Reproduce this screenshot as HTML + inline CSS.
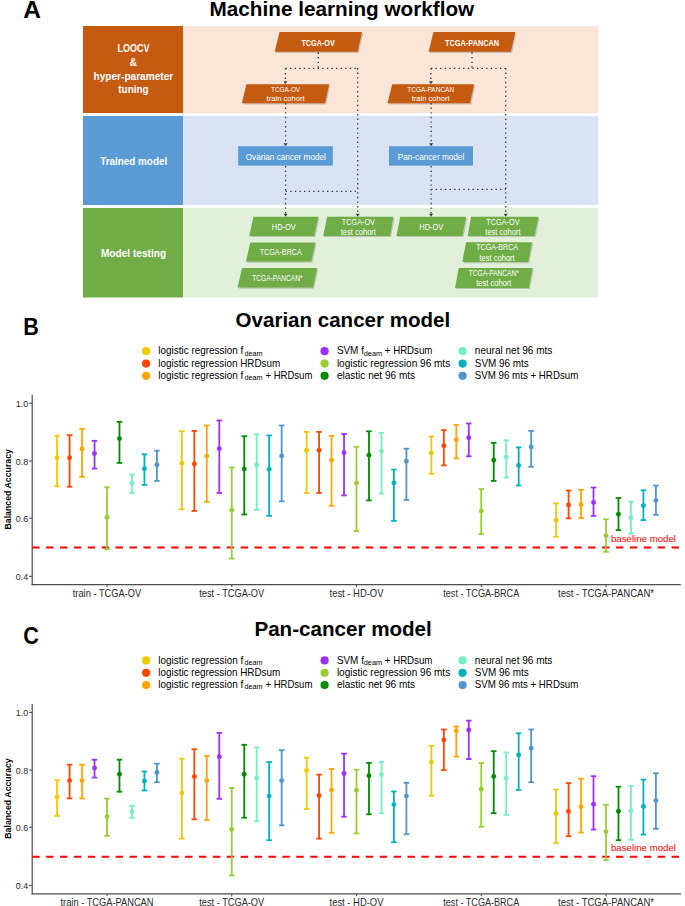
<!DOCTYPE html>
<html><head><meta charset="utf-8"><style>
html,body{margin:0;padding:0;background:#fff;}
svg{display:block;font-family:"Liberation Sans", sans-serif;}
</style></head><body>
<svg width="685" height="906" viewBox="0 0 685 906" style="font-family:&quot;Liberation Sans&quot;, sans-serif">
<text x="23.2" y="18" font-size="24.5" font-weight="bold" fill="#000" text-anchor="start">A</text>
<text x="209.6" y="15.6" font-size="20.5" font-weight="bold" fill="#000" text-anchor="start" textLength="264.6" lengthAdjust="spacingAndGlyphs">Machine learning workflow</text>
<rect x="83" y="26" width="100" height="87" fill="#C55A11"/>
<rect x="183" y="26" width="415.3" height="87" fill="#FBE5D6"/>
<rect x="83" y="116" width="100" height="89" fill="#5B9BD5"/>
<rect x="183" y="116" width="415.3" height="89" fill="#DAE3F3"/>
<rect x="83" y="208" width="100" height="89.5" fill="#70AD47"/>
<rect x="183" y="208" width="415.3" height="89.5" fill="#E2F0D9"/>
<text x="133.4" y="52.4" font-size="10.5" font-weight="bold" fill="#fff" text-anchor="middle" textLength="32" lengthAdjust="spacingAndGlyphs">LOOCV</text>
<text x="133.4" y="65.9" font-size="10.5" font-weight="bold" fill="#fff" text-anchor="middle" textLength="7.6" lengthAdjust="spacingAndGlyphs">&amp;</text>
<text x="133.4" y="79.6" font-size="10.5" font-weight="bold" fill="#fff" text-anchor="middle" textLength="79.7" lengthAdjust="spacingAndGlyphs">hyper-parameter</text>
<text x="133.4" y="92.7" font-size="10.5" font-weight="bold" fill="#fff" text-anchor="middle" textLength="30.2" lengthAdjust="spacingAndGlyphs">tuning</text>
<text x="133.7" y="165" font-size="11.3" font-weight="bold" fill="#fff" text-anchor="middle" textLength="67" lengthAdjust="spacingAndGlyphs">Trained model</text>
<text x="133.5" y="257.1" font-size="11.3" font-weight="bold" fill="#fff" text-anchor="middle" textLength="65.2" lengthAdjust="spacingAndGlyphs">Model testing</text>
<line x1="318.3" y1="52.5" x2="318.3" y2="68.4" stroke="#3a3a3a" stroke-width="1.3" stroke-dasharray="1.4 3.2" fill="none"/>
<line x1="285.4" y1="68.4" x2="357.7" y2="68.4" stroke="#3a3a3a" stroke-width="1.3" stroke-dasharray="1.4 3.2" fill="none"/>
<line x1="285.4" y1="68.4" x2="285.4" y2="82" stroke="#3a3a3a" stroke-width="1.3" stroke-dasharray="1.4 3.2" fill="none"/>
<line x1="285.6" y1="103" x2="285.6" y2="144" stroke="#3a3a3a" stroke-width="1.3" stroke-dasharray="1.4 3.2" fill="none"/>
<line x1="285.6" y1="166" x2="285.6" y2="214" stroke="#3a3a3a" stroke-width="1.3" stroke-dasharray="1.4 3.2" fill="none"/>
<line x1="285.6" y1="191.3" x2="357.7" y2="191.3" stroke="#3a3a3a" stroke-width="1.3" stroke-dasharray="1.4 3.2" fill="none"/>
<line x1="357.7" y1="68" x2="357.7" y2="214" stroke="#3a3a3a" stroke-width="1.3" stroke-dasharray="1.4 3.2" fill="none"/>
<line x1="472" y1="52.5" x2="472" y2="68.4" stroke="#3a3a3a" stroke-width="1.3" stroke-dasharray="1.4 3.2" fill="none"/>
<line x1="430.9" y1="68.4" x2="505.4" y2="68.4" stroke="#3a3a3a" stroke-width="1.3" stroke-dasharray="1.4 3.2" fill="none"/>
<line x1="430.9" y1="68.4" x2="430.9" y2="82" stroke="#3a3a3a" stroke-width="1.3" stroke-dasharray="1.4 3.2" fill="none"/>
<line x1="431.1" y1="103" x2="431.1" y2="144" stroke="#3a3a3a" stroke-width="1.3" stroke-dasharray="1.4 3.2" fill="none"/>
<line x1="431.1" y1="166" x2="431.1" y2="214" stroke="#3a3a3a" stroke-width="1.3" stroke-dasharray="1.4 3.2" fill="none"/>
<line x1="431.1" y1="189.3" x2="505.7" y2="189.3" stroke="#3a3a3a" stroke-width="1.3" stroke-dasharray="1.4 3.2" fill="none"/>
<line x1="505.7" y1="68" x2="505.7" y2="214" stroke="#3a3a3a" stroke-width="1.3" stroke-dasharray="1.4 3.2" fill="none"/>
<polygon points="283.4,81.3 287.4,81.3 285.4,84.3" fill="#404040"/>
<polygon points="428.9,81.3 432.9,81.3 430.9,84.3" fill="#404040"/>
<polygon points="283.6,143.2 287.6,143.2 285.6,146.2" fill="#404040"/>
<polygon points="429.1,143.2 433.1,143.2 431.1,146.2" fill="#404040"/>
<polygon points="283.6,213.7 287.6,213.7 285.6,216.7" fill="#404040"/>
<polygon points="355.7,213.7 359.7,213.7 357.7,216.7" fill="#404040"/>
<polygon points="429.1,213.7 433.1,213.7 431.1,216.7" fill="#404040"/>
<polygon points="503.7,213.7 507.7,213.7 505.7,216.7" fill="#404040"/>
<polygon points="280.7,33.300000000000004 363.2,33.300000000000004 358.8,53.0 275.9,53.0" fill="#000" fill-opacity="0.18"/><polygon points="279.5,32.1 362,32.1 357.6,51.8 274.7,51.8" fill="#C55A11"/>
<text x="318.1" y="45.9" font-size="8.9" font-weight="bold" fill="#fff" text-anchor="middle" textLength="33.3" lengthAdjust="spacingAndGlyphs">TCGA-OV</text>
<polygon points="434.7,33.300000000000004 516.5,33.300000000000004 512.0,53.0 429.8,53.0" fill="#000" fill-opacity="0.18"/><polygon points="433.5,32.1 515.3,32.1 510.8,51.8 428.6,51.8" fill="#C55A11"/>
<text x="472.1" y="45.9" font-size="8.9" font-weight="bold" fill="#fff" text-anchor="middle" textLength="54" lengthAdjust="spacingAndGlyphs">TCGA-PANCAN</text>
<polygon points="247.5,85.5 330.3,85.5 326.2,104.5 243.1,104.5" fill="#000" fill-opacity="0.18"/><polygon points="246.3,84.3 329.1,84.3 325,103.3 241.9,103.3" fill="#C55A11"/>
<text x="285.6" y="92" font-size="7.4" font-weight="normal" fill="#fff" text-anchor="middle" textLength="29" lengthAdjust="spacingAndGlyphs">TCGA-OV</text>
<text x="285.6" y="101" font-size="7.4" font-weight="normal" fill="#fff" text-anchor="middle" textLength="38" lengthAdjust="spacingAndGlyphs">train cohort</text>
<polygon points="393.5,85.5 475.2,85.5 471.2,104.5 388.59999999999997,104.5" fill="#000" fill-opacity="0.18"/><polygon points="392.3,84.3 474,84.3 470,103.3 387.4,103.3" fill="#C55A11"/>
<text x="430.7" y="92" font-size="7.4" font-weight="normal" fill="#fff" text-anchor="middle" textLength="47" lengthAdjust="spacingAndGlyphs">TCGA-PANCAN</text>
<text x="430.7" y="101" font-size="7.4" font-weight="normal" fill="#fff" text-anchor="middle" textLength="38" lengthAdjust="spacingAndGlyphs">train cohort</text>
<rect x="238.2" y="146.2" width="94.6" height="19.4" fill="#5B9BD5"/>
<text x="285.8" y="159.7" font-size="8.6" font-weight="normal" fill="#fff" text-anchor="middle" textLength="80.3" lengthAdjust="spacingAndGlyphs">Ovarian cancer model</text>
<rect x="389" y="146.2" width="84" height="19.4" fill="#5B9BD5"/>
<text x="431" y="159.7" font-size="8.6" font-weight="normal" fill="#fff" text-anchor="middle" textLength="66.5" lengthAdjust="spacingAndGlyphs">Pan-cancer model</text>
<polygon points="254.6,217.89999999999998 319.5,217.89999999999998 315.3,237.1 250.39999999999998,237.1" fill="#000" fill-opacity="0.18"/><polygon points="253.4,216.7 318.3,216.7 314.1,235.9 249.2,235.9" fill="#70AD47"/>
<text x="283.75" y="229.60000000000002" font-size="8.8" font-weight="normal" fill="#fff" text-anchor="middle" textLength="24" lengthAdjust="spacingAndGlyphs">HD-OV</text>
<polygon points="251.5,243.6 316.5,243.6 312.5,262.7 247.1,262.7" fill="#000" fill-opacity="0.18"/><polygon points="250.3,242.4 315.3,242.4 311.3,261.5 245.9,261.5" fill="#70AD47"/>
<text x="280.7" y="255.25" font-size="8.8" font-weight="normal" fill="#fff" text-anchor="middle" textLength="42" lengthAdjust="spacingAndGlyphs">TCGA-BRCA</text>
<polygon points="243.29999999999998,269.3 318.3,269.3 314.09999999999997,288.7 238.7,288.7" fill="#000" fill-opacity="0.18"/><polygon points="242.1,268.1 317.1,268.1 312.9,287.5 237.5,287.5" fill="#70AD47"/>
<text x="277.4" y="281.1" font-size="8.8" font-weight="normal" fill="#fff" text-anchor="middle" textLength="50.3" lengthAdjust="spacingAndGlyphs">TCGA-PANCAN*</text>
<polygon points="328.3,217.89999999999998 394.4,217.89999999999998 391.2,237.1 324.4,237.1" fill="#000" fill-opacity="0.18"/><polygon points="327.1,216.7 393.2,216.7 390.0,235.9 323.2,235.9" fill="#70AD47"/>
<text x="358.375" y="224.89999999999998" font-size="8.6" font-weight="normal" fill="#fff" text-anchor="middle" textLength="33.2" lengthAdjust="spacingAndGlyphs">TCGA-OV</text>
<text x="358.375" y="235.0" font-size="8.6" font-weight="normal" fill="#fff" text-anchor="middle" textLength="35.2" lengthAdjust="spacingAndGlyphs">test cohort</text>
<polygon points="401.5,217.89999999999998 467.3,217.89999999999998 463.5,237.1 397.59999999999997,237.1" fill="#000" fill-opacity="0.18"/><polygon points="400.3,216.7 466.1,216.7 462.3,235.9 396.4,235.9" fill="#70AD47"/>
<text x="431.27500000000003" y="229.60000000000002" font-size="8.8" font-weight="normal" fill="#fff" text-anchor="middle" textLength="24" lengthAdjust="spacingAndGlyphs">HD-OV</text>
<polygon points="472.2,217.89999999999998 539.6,217.89999999999998 535.7,237.1 468.9,237.1" fill="#000" fill-opacity="0.18"/><polygon points="471.0,216.7 538.4,216.7 534.5,235.9 467.7,235.9" fill="#70AD47"/>
<text x="502.9" y="224.89999999999998" font-size="8.6" font-weight="normal" fill="#fff" text-anchor="middle" textLength="33.2" lengthAdjust="spacingAndGlyphs">TCGA-OV</text>
<text x="502.9" y="235.0" font-size="8.6" font-weight="normal" fill="#fff" text-anchor="middle" textLength="35.2" lengthAdjust="spacingAndGlyphs">test cohort</text>
<polygon points="467.3,243.39999999999998 533.2,243.39999999999998 529.3000000000001,263.2 463.5,263.2" fill="#000" fill-opacity="0.18"/><polygon points="466.1,242.2 532.0,242.2 528.1,262.0 462.3,262.0" fill="#70AD47"/>
<text x="497.125" y="250.39999999999998" font-size="8.6" font-weight="normal" fill="#fff" text-anchor="middle" textLength="42" lengthAdjust="spacingAndGlyphs">TCGA-BRCA</text>
<text x="497.125" y="260.5" font-size="8.6" font-weight="normal" fill="#fff" text-anchor="middle" textLength="35.2" lengthAdjust="spacingAndGlyphs">test cohort</text>
<polygon points="459.9,269.2 533.8000000000001,269.2 530.0,289.09999999999997 456.2,289.09999999999997" fill="#000" fill-opacity="0.18"/><polygon points="458.7,268.0 532.6,268.0 528.8,287.9 455.0,287.9" fill="#70AD47"/>
<text x="493.775" y="276.2" font-size="8.6" font-weight="normal" fill="#fff" text-anchor="middle" textLength="50" lengthAdjust="spacingAndGlyphs">TCGA-PANCAN*</text>
<text x="493.775" y="286.3" font-size="8.6" font-weight="normal" fill="#fff" text-anchor="middle" textLength="35.2" lengthAdjust="spacingAndGlyphs">test cohort</text>
<text x="23.2" y="335.1" font-size="24.5" font-weight="bold" fill="#000" text-anchor="start" textLength="15.6" lengthAdjust="spacingAndGlyphs">B</text>
<text x="235.6" y="326.9" font-size="20.3" font-weight="bold" fill="#000" text-anchor="start" textLength="214.6" lengthAdjust="spacingAndGlyphs">Ovarian cancer model</text>
<circle cx="146.1" cy="351.2" r="4.1" fill="#EEC900"/>
<circle cx="146.1" cy="363.6" r="4.1" fill="#FF4500"/>
<circle cx="146.1" cy="375.8" r="4.1" fill="#FFA500"/>
<circle cx="324.6" cy="351.2" r="4.1" fill="#9B30FF"/>
<circle cx="324.6" cy="363.6" r="4.1" fill="#9ACD32"/>
<circle cx="324.6" cy="375.8" r="4.1" fill="#008B00"/>
<circle cx="462.6" cy="351.2" r="4.1" fill="#76EEC6"/>
<circle cx="462.6" cy="363.6" r="4.1" fill="#00B2BF"/>
<circle cx="462.6" cy="375.8" r="4.1" fill="#4F94CD"/>
<text x="158.3" y="354.3" font-size="10.8" font-weight="normal" fill="#000" text-anchor="start" textLength="85.0" lengthAdjust="spacingAndGlyphs">logistic regression f</text>
<text x="244.4" y="355.5" font-size="7.0" font-weight="normal" fill="#000" text-anchor="start" textLength="18" lengthAdjust="spacingAndGlyphs">deam</text>
<text x="158.3" y="367.0" font-size="10.8" font-weight="normal" fill="#000" text-anchor="start" textLength="122.0" lengthAdjust="spacingAndGlyphs">logistic regression HRDsum</text>
<text x="158.3" y="379.0" font-size="10.8" font-weight="normal" fill="#000" text-anchor="start" textLength="85.0" lengthAdjust="spacingAndGlyphs">logistic regression f</text>
<text x="244.4" y="380.2" font-size="7.0" font-weight="normal" fill="#000" text-anchor="start" textLength="18" lengthAdjust="spacingAndGlyphs">deam</text>
<text x="265.4" y="379.0" font-size="10.8" font-weight="normal" fill="#000" text-anchor="start" textLength="47.0" lengthAdjust="spacingAndGlyphs">+ HRDsum</text>
<text x="336.9" y="354.3" font-size="10.8" font-weight="normal" fill="#000" text-anchor="start" textLength="27.0" lengthAdjust="spacingAndGlyphs">SVM f</text>
<text x="363.8" y="355.5" font-size="7.0" font-weight="normal" fill="#000" text-anchor="start" textLength="18.3" lengthAdjust="spacingAndGlyphs">deam</text>
<text x="384.8" y="354.3" font-size="10.8" font-weight="normal" fill="#000" text-anchor="start" textLength="47.6" lengthAdjust="spacingAndGlyphs">+ HRDsum</text>
<text x="336.9" y="367.0" font-size="10.8" font-weight="normal" fill="#000" text-anchor="start" textLength="113.3" lengthAdjust="spacingAndGlyphs">logistic regression 96 mts</text>
<text x="336.9" y="379.0" font-size="10.8" font-weight="normal" fill="#000" text-anchor="start" textLength="78.2" lengthAdjust="spacingAndGlyphs">elastic net 96 mts</text>
<text x="474.8" y="354.3" font-size="10.8" font-weight="normal" fill="#000" text-anchor="start" textLength="77.6" lengthAdjust="spacingAndGlyphs">neural net 96 mts</text>
<text x="474.8" y="367.0" font-size="10.8" font-weight="normal" fill="#000" text-anchor="start" textLength="54.0" lengthAdjust="spacingAndGlyphs">SVM 96 mts</text>
<text x="474.8" y="379.0" font-size="10.8" font-weight="normal" fill="#000" text-anchor="start" textLength="103.5" lengthAdjust="spacingAndGlyphs">SVM 96 mts + HRDsum</text>
<line x1="32.2" y1="394.8" x2="32.2" y2="585.3" stroke="#4d4d4d" stroke-width="1.2"/>
<line x1="31.6" y1="584.7" x2="680.9" y2="584.7" stroke="#4d4d4d" stroke-width="1.2"/>
<line x1="29.200000000000003" y1="403.2" x2="32.2" y2="403.2" stroke="#4d4d4d" stroke-width="1.1"/>
<text x="28.2" y="406.7" font-size="8.2" font-weight="normal" fill="#2a2a2a" text-anchor="end" textLength="12.4" lengthAdjust="spacingAndGlyphs">1.0</text>
<line x1="29.200000000000003" y1="461.0" x2="32.2" y2="461.0" stroke="#4d4d4d" stroke-width="1.1"/>
<text x="28.2" y="464.5" font-size="8.2" font-weight="normal" fill="#2a2a2a" text-anchor="end" textLength="12.4" lengthAdjust="spacingAndGlyphs">0.8</text>
<line x1="29.200000000000003" y1="518.2" x2="32.2" y2="518.2" stroke="#4d4d4d" stroke-width="1.1"/>
<text x="28.2" y="521.7" font-size="8.2" font-weight="normal" fill="#2a2a2a" text-anchor="end" textLength="12.4" lengthAdjust="spacingAndGlyphs">0.6</text>
<line x1="29.200000000000003" y1="576.3" x2="32.2" y2="576.3" stroke="#4d4d4d" stroke-width="1.1"/>
<text x="28.2" y="579.8" font-size="8.2" font-weight="normal" fill="#2a2a2a" text-anchor="end" textLength="12.4" lengthAdjust="spacingAndGlyphs">0.4</text>
<text x="11.4" y="489.3" font-size="9.8" font-weight="bold" fill="#000" text-anchor="middle" textLength="80.5" lengthAdjust="spacingAndGlyphs" transform="rotate(-90 11.4 489.3)">Balanced Accuracy</text>
<line x1="107.0" y1="584.7" x2="107.0" y2="587.0" stroke="#4d4d4d" stroke-width="1.1"/>
<text x="107.0" y="596.8" font-size="10.4" font-weight="normal" fill="#2a2a2a" text-anchor="middle" textLength="68.5" lengthAdjust="spacingAndGlyphs">train - TCGA-OV</text>
<line x1="231.75" y1="584.7" x2="231.75" y2="587.0" stroke="#4d4d4d" stroke-width="1.1"/>
<text x="231.75" y="596.8" font-size="10.4" font-weight="normal" fill="#2a2a2a" text-anchor="middle" textLength="64.9" lengthAdjust="spacingAndGlyphs">test - TCGA-OV</text>
<line x1="356.5" y1="584.7" x2="356.5" y2="587.0" stroke="#4d4d4d" stroke-width="1.1"/>
<text x="356.5" y="596.8" font-size="10.4" font-weight="normal" fill="#2a2a2a" text-anchor="middle" textLength="53.9" lengthAdjust="spacingAndGlyphs">test - HD-OV</text>
<line x1="481.25" y1="584.7" x2="481.25" y2="587.0" stroke="#4d4d4d" stroke-width="1.1"/>
<text x="481.25" y="596.8" font-size="10.4" font-weight="normal" fill="#2a2a2a" text-anchor="middle" textLength="75.9" lengthAdjust="spacingAndGlyphs">test - TCGA-BRCA</text>
<line x1="606.0" y1="584.7" x2="606.0" y2="587.0" stroke="#4d4d4d" stroke-width="1.1"/>
<text x="606.0" y="596.8" font-size="10.4" font-weight="normal" fill="#2a2a2a" text-anchor="middle" textLength="96.0" lengthAdjust="spacingAndGlyphs">test - TCGA-PANCAN*</text>
<line x1="32.2" y1="547.5" x2="680.9" y2="547.5" stroke="#FF0000" stroke-width="2" stroke-dasharray="7.4 6.5"/>
<text x="611.0" y="542.2" font-size="9.3" font-weight="normal" fill="#FF0000" text-anchor="start" textLength="65" lengthAdjust="spacingAndGlyphs">baseline model</text>
<g stroke="#EEC900" stroke-width="1.8" fill="none"><line x1="57.1" y1="435.8" x2="57.1" y2="486.3"/><line x1="54.35" y1="435.8" x2="59.85" y2="435.8"/><line x1="54.35" y1="486.3" x2="59.85" y2="486.3"/></g><circle cx="57.1" cy="457.7" r="2.45" fill="#EEC900"/>
<g stroke="#FF4500" stroke-width="1.8" fill="none"><line x1="69.575" y1="435.2" x2="69.575" y2="486.7"/><line x1="66.825" y1="435.2" x2="72.325" y2="435.2"/><line x1="66.825" y1="486.7" x2="72.325" y2="486.7"/></g><circle cx="69.575" cy="457.7" r="2.45" fill="#FF4500"/>
<g stroke="#FFA500" stroke-width="1.8" fill="none"><line x1="82.05" y1="428.9" x2="82.05" y2="476.8"/><line x1="79.3" y1="428.9" x2="84.8" y2="428.9"/><line x1="79.3" y1="476.8" x2="84.8" y2="476.8"/></g><circle cx="82.05" cy="448.9" r="2.45" fill="#FFA500"/>
<g stroke="#9B30FF" stroke-width="1.8" fill="none"><line x1="94.525" y1="440.8" x2="94.525" y2="468.6"/><line x1="91.775" y1="440.8" x2="97.275" y2="440.8"/><line x1="91.775" y1="468.6" x2="97.275" y2="468.6"/></g><circle cx="94.525" cy="453.5" r="2.45" fill="#9B30FF"/>
<g stroke="#9ACD32" stroke-width="1.8" fill="none"><line x1="107.0" y1="487.3" x2="107.0" y2="549.1"/><line x1="104.25" y1="487.3" x2="109.75" y2="487.3"/><line x1="104.25" y1="549.1" x2="109.75" y2="549.1"/></g><circle cx="107.0" cy="517.3" r="2.45" fill="#9ACD32"/>
<g stroke="#008B00" stroke-width="1.8" fill="none"><line x1="119.475" y1="421.9" x2="119.475" y2="462.9"/><line x1="116.725" y1="421.9" x2="122.225" y2="421.9"/><line x1="116.725" y1="462.9" x2="122.225" y2="462.9"/></g><circle cx="119.475" cy="438.6" r="2.45" fill="#008B00"/>
<g stroke="#76EEC6" stroke-width="1.8" fill="none"><line x1="131.95" y1="474.6" x2="131.95" y2="492.9"/><line x1="129.2" y1="474.6" x2="134.7" y2="474.6"/><line x1="129.2" y1="492.9" x2="134.7" y2="492.9"/></g><circle cx="131.95" cy="483.3" r="2.45" fill="#76EEC6"/>
<g stroke="#00B2BF" stroke-width="1.8" fill="none"><line x1="144.425" y1="454.3" x2="144.425" y2="484.9"/><line x1="141.675" y1="454.3" x2="147.175" y2="454.3"/><line x1="141.675" y1="484.9" x2="147.175" y2="484.9"/></g><circle cx="144.425" cy="468.8" r="2.45" fill="#00B2BF"/>
<g stroke="#4F94CD" stroke-width="1.8" fill="none"><line x1="156.9" y1="450.7" x2="156.9" y2="480.9"/><line x1="154.15" y1="450.7" x2="159.65" y2="450.7"/><line x1="154.15" y1="480.9" x2="159.65" y2="480.9"/></g><circle cx="156.9" cy="464.8" r="2.45" fill="#4F94CD"/>
<g stroke="#EEC900" stroke-width="1.8" fill="none"><line x1="181.85" y1="431.3" x2="181.85" y2="509.3"/><line x1="179.1" y1="431.3" x2="184.6" y2="431.3"/><line x1="179.1" y1="509.3" x2="184.6" y2="509.3"/></g><circle cx="181.85" cy="463.2" r="2.45" fill="#EEC900"/>
<g stroke="#FF4500" stroke-width="1.8" fill="none"><line x1="194.325" y1="430.9" x2="194.325" y2="510.9"/><line x1="191.575" y1="430.9" x2="197.075" y2="430.9"/><line x1="191.575" y1="510.9" x2="197.075" y2="510.9"/></g><circle cx="194.325" cy="464.0" r="2.45" fill="#FF4500"/>
<g stroke="#FFA500" stroke-width="1.8" fill="none"><line x1="206.8" y1="425.5" x2="206.8" y2="501.8"/><line x1="204.05" y1="425.5" x2="209.55" y2="425.5"/><line x1="204.05" y1="501.8" x2="209.55" y2="501.8"/></g><circle cx="206.8" cy="456.1" r="2.45" fill="#FFA500"/>
<g stroke="#9B30FF" stroke-width="1.8" fill="none"><line x1="219.275" y1="420.5" x2="219.275" y2="493.0"/><line x1="216.525" y1="420.5" x2="222.025" y2="420.5"/><line x1="216.525" y1="493.0" x2="222.025" y2="493.0"/></g><circle cx="219.275" cy="448.7" r="2.45" fill="#9B30FF"/>
<g stroke="#9ACD32" stroke-width="1.8" fill="none"><line x1="231.75" y1="467.6" x2="231.75" y2="558.6"/><line x1="229.0" y1="467.6" x2="234.5" y2="467.6"/><line x1="229.0" y1="558.6" x2="234.5" y2="558.6"/></g><circle cx="231.75" cy="510.3" r="2.45" fill="#9ACD32"/>
<g stroke="#008B00" stroke-width="1.8" fill="none"><line x1="244.225" y1="436.2" x2="244.225" y2="514.5"/><line x1="241.475" y1="436.2" x2="246.975" y2="436.2"/><line x1="241.475" y1="514.5" x2="246.975" y2="514.5"/></g><circle cx="244.225" cy="469.0" r="2.45" fill="#008B00"/>
<g stroke="#76EEC6" stroke-width="1.8" fill="none"><line x1="256.7" y1="434.2" x2="256.7" y2="509.9"/><line x1="253.95" y1="434.2" x2="259.45" y2="434.2"/><line x1="253.95" y1="509.9" x2="259.45" y2="509.9"/></g><circle cx="256.7" cy="465.2" r="2.45" fill="#76EEC6"/>
<g stroke="#00B2BF" stroke-width="1.8" fill="none"><line x1="269.175" y1="435.4" x2="269.175" y2="515.9"/><line x1="266.425" y1="435.4" x2="271.925" y2="435.4"/><line x1="266.425" y1="515.9" x2="271.925" y2="515.9"/></g><circle cx="269.175" cy="469.2" r="2.45" fill="#00B2BF"/>
<g stroke="#4F94CD" stroke-width="1.8" fill="none"><line x1="281.65" y1="425.5" x2="281.65" y2="501.4"/><line x1="278.9" y1="425.5" x2="284.4" y2="425.5"/><line x1="278.9" y1="501.4" x2="284.4" y2="501.4"/></g><circle cx="281.65" cy="455.9" r="2.45" fill="#4F94CD"/>
<g stroke="#EEC900" stroke-width="1.8" fill="none"><line x1="306.6" y1="431.9" x2="306.6" y2="492.9"/><line x1="303.85" y1="431.9" x2="309.35" y2="431.9"/><line x1="303.85" y1="492.9" x2="309.35" y2="492.9"/></g><circle cx="306.6" cy="450.3" r="2.45" fill="#EEC900"/>
<g stroke="#FF4500" stroke-width="1.8" fill="none"><line x1="319.075" y1="431.9" x2="319.075" y2="492.9"/><line x1="316.325" y1="431.9" x2="321.825" y2="431.9"/><line x1="316.325" y1="492.9" x2="321.825" y2="492.9"/></g><circle cx="319.075" cy="450.3" r="2.45" fill="#FF4500"/>
<g stroke="#FFA500" stroke-width="1.8" fill="none"><line x1="331.55" y1="435.8" x2="331.55" y2="505.8"/><line x1="328.8" y1="435.8" x2="334.3" y2="435.8"/><line x1="328.8" y1="505.8" x2="334.3" y2="505.8"/></g><circle cx="331.55" cy="460.3" r="2.45" fill="#FFA500"/>
<g stroke="#9B30FF" stroke-width="1.8" fill="none"><line x1="344.025" y1="434.0" x2="344.025" y2="495.4"/><line x1="341.275" y1="434.0" x2="346.775" y2="434.0"/><line x1="341.275" y1="495.4" x2="346.775" y2="495.4"/></g><circle cx="344.025" cy="452.7" r="2.45" fill="#9B30FF"/>
<g stroke="#9ACD32" stroke-width="1.8" fill="none"><line x1="356.5" y1="446.8" x2="356.5" y2="531.0"/><line x1="353.75" y1="446.8" x2="359.25" y2="446.8"/><line x1="353.75" y1="531.0" x2="359.25" y2="531.0"/></g><circle cx="356.5" cy="482.9" r="2.45" fill="#9ACD32"/>
<g stroke="#008B00" stroke-width="1.8" fill="none"><line x1="368.975" y1="431.3" x2="368.975" y2="500.4"/><line x1="366.225" y1="431.3" x2="371.725" y2="431.3"/><line x1="366.225" y1="500.4" x2="371.725" y2="500.4"/></g><circle cx="368.975" cy="455.3" r="2.45" fill="#008B00"/>
<g stroke="#76EEC6" stroke-width="1.8" fill="none"><line x1="381.45" y1="432.8" x2="381.45" y2="493.6"/><line x1="378.7" y1="432.8" x2="384.2" y2="432.8"/><line x1="378.7" y1="493.6" x2="384.2" y2="493.6"/></g><circle cx="381.45" cy="451.1" r="2.45" fill="#76EEC6"/>
<g stroke="#00B2BF" stroke-width="1.8" fill="none"><line x1="393.925" y1="469.6" x2="393.925" y2="520.9"/><line x1="391.175" y1="469.6" x2="396.675" y2="469.6"/><line x1="391.175" y1="520.9" x2="396.675" y2="520.9"/></g><circle cx="393.925" cy="482.9" r="2.45" fill="#00B2BF"/>
<g stroke="#4F94CD" stroke-width="1.8" fill="none"><line x1="406.4" y1="448.7" x2="406.4" y2="500.0"/><line x1="403.65" y1="448.7" x2="409.15" y2="448.7"/><line x1="403.65" y1="500.0" x2="409.15" y2="500.0"/></g><circle cx="406.4" cy="461.3" r="2.45" fill="#4F94CD"/>
<g stroke="#EEC900" stroke-width="1.8" fill="none"><line x1="431.35" y1="436.6" x2="431.35" y2="473.8"/><line x1="428.6" y1="436.6" x2="434.1" y2="436.6"/><line x1="428.6" y1="473.8" x2="434.1" y2="473.8"/></g><circle cx="431.35" cy="453.1" r="2.45" fill="#EEC900"/>
<g stroke="#FF4500" stroke-width="1.8" fill="none"><line x1="443.825" y1="430.1" x2="443.825" y2="465.4"/><line x1="441.075" y1="430.1" x2="446.575" y2="430.1"/><line x1="441.075" y1="465.4" x2="446.575" y2="465.4"/></g><circle cx="443.825" cy="445.8" r="2.45" fill="#FF4500"/>
<g stroke="#FFA500" stroke-width="1.8" fill="none"><line x1="456.3" y1="424.9" x2="456.3" y2="458.3"/><line x1="453.55" y1="424.9" x2="459.05" y2="424.9"/><line x1="453.55" y1="458.3" x2="459.05" y2="458.3"/></g><circle cx="456.3" cy="439.8" r="2.45" fill="#FFA500"/>
<g stroke="#9B30FF" stroke-width="1.8" fill="none"><line x1="468.775" y1="423.5" x2="468.775" y2="456.3"/><line x1="466.025" y1="423.5" x2="471.525" y2="423.5"/><line x1="466.025" y1="456.3" x2="471.525" y2="456.3"/></g><circle cx="468.775" cy="437.8" r="2.45" fill="#9B30FF"/>
<g stroke="#9ACD32" stroke-width="1.8" fill="none"><line x1="481.25" y1="489.1" x2="481.25" y2="534.2"/><line x1="478.5" y1="489.1" x2="484.0" y2="489.1"/><line x1="478.5" y1="534.2" x2="484.0" y2="534.2"/></g><circle cx="481.25" cy="511.1" r="2.45" fill="#9ACD32"/>
<g stroke="#008B00" stroke-width="1.8" fill="none"><line x1="493.725" y1="442.8" x2="493.725" y2="480.9"/><line x1="490.975" y1="442.8" x2="496.475" y2="442.8"/><line x1="490.975" y1="480.9" x2="496.475" y2="480.9"/></g><circle cx="493.725" cy="460.3" r="2.45" fill="#008B00"/>
<g stroke="#76EEC6" stroke-width="1.8" fill="none"><line x1="506.2" y1="440.2" x2="506.2" y2="477.4"/><line x1="503.45" y1="440.2" x2="508.95" y2="440.2"/><line x1="503.45" y1="477.4" x2="508.95" y2="477.4"/></g><circle cx="506.2" cy="456.9" r="2.45" fill="#76EEC6"/>
<g stroke="#00B2BF" stroke-width="1.8" fill="none"><line x1="518.675" y1="447.4" x2="518.675" y2="485.5"/><line x1="515.925" y1="447.4" x2="521.425" y2="447.4"/><line x1="515.925" y1="485.5" x2="521.425" y2="485.5"/></g><circle cx="518.675" cy="465.4" r="2.45" fill="#00B2BF"/>
<g stroke="#4F94CD" stroke-width="1.8" fill="none"><line x1="531.15" y1="430.9" x2="531.15" y2="466.8"/><line x1="528.4" y1="430.9" x2="533.9" y2="430.9"/><line x1="528.4" y1="466.8" x2="533.9" y2="466.8"/></g><circle cx="531.15" cy="447.0" r="2.45" fill="#4F94CD"/>
<g stroke="#EEC900" stroke-width="1.8" fill="none"><line x1="556.1" y1="503.4" x2="556.1" y2="536.8"/><line x1="553.35" y1="503.4" x2="558.85" y2="503.4"/><line x1="553.35" y1="536.8" x2="558.85" y2="536.8"/></g><circle cx="556.1" cy="520.3" r="2.45" fill="#EEC900"/>
<g stroke="#FF4500" stroke-width="1.8" fill="none"><line x1="568.575" y1="490.5" x2="568.575" y2="518.3"/><line x1="565.825" y1="490.5" x2="571.325" y2="490.5"/><line x1="565.825" y1="518.3" x2="571.325" y2="518.3"/></g><circle cx="568.575" cy="505.0" r="2.45" fill="#FF4500"/>
<g stroke="#FFA500" stroke-width="1.8" fill="none"><line x1="581.05" y1="489.9" x2="581.05" y2="517.9"/><line x1="578.3" y1="489.9" x2="583.8" y2="489.9"/><line x1="578.3" y1="517.9" x2="583.8" y2="517.9"/></g><circle cx="581.05" cy="504.8" r="2.45" fill="#FFA500"/>
<g stroke="#9B30FF" stroke-width="1.8" fill="none"><line x1="593.525" y1="487.5" x2="593.525" y2="515.9"/><line x1="590.775" y1="487.5" x2="596.275" y2="487.5"/><line x1="590.775" y1="515.9" x2="596.275" y2="515.9"/></g><circle cx="593.525" cy="502.4" r="2.45" fill="#9B30FF"/>
<g stroke="#9ACD32" stroke-width="1.8" fill="none"><line x1="606.0" y1="519.3" x2="606.0" y2="551.9"/><line x1="603.25" y1="519.3" x2="608.75" y2="519.3"/><line x1="603.25" y1="551.9" x2="608.75" y2="551.9"/></g><circle cx="606.0" cy="535.6" r="2.45" fill="#9ACD32"/>
<g stroke="#008B00" stroke-width="1.8" fill="none"><line x1="618.475" y1="498.0" x2="618.475" y2="530.2"/><line x1="615.725" y1="498.0" x2="621.225" y2="498.0"/><line x1="615.725" y1="530.2" x2="621.225" y2="530.2"/></g><circle cx="618.475" cy="514.3" r="2.45" fill="#008B00"/>
<g stroke="#76EEC6" stroke-width="1.8" fill="none"><line x1="630.95" y1="501.8" x2="630.95" y2="533.6"/><line x1="628.2" y1="501.8" x2="633.7" y2="501.8"/><line x1="628.2" y1="533.6" x2="633.7" y2="533.6"/></g><circle cx="630.95" cy="517.7" r="2.45" fill="#76EEC6"/>
<g stroke="#00B2BF" stroke-width="1.8" fill="none"><line x1="643.425" y1="490.3" x2="643.425" y2="520.1"/><line x1="640.675" y1="490.3" x2="646.175" y2="490.3"/><line x1="640.675" y1="520.1" x2="646.175" y2="520.1"/></g><circle cx="643.425" cy="505.6" r="2.45" fill="#00B2BF"/>
<g stroke="#4F94CD" stroke-width="1.8" fill="none"><line x1="655.9" y1="485.5" x2="655.9" y2="514.9"/><line x1="653.15" y1="485.5" x2="658.65" y2="485.5"/><line x1="653.15" y1="514.9" x2="658.65" y2="514.9"/></g><circle cx="655.9" cy="500.6" r="2.45" fill="#4F94CD"/>
<text x="23.2" y="644.3" font-size="24.5" font-weight="bold" fill="#000" text-anchor="start" textLength="15.6" lengthAdjust="spacingAndGlyphs">C</text>
<text x="254.4" y="636.0999999999999" font-size="20.3" font-weight="bold" fill="#000" text-anchor="start" textLength="177.4" lengthAdjust="spacingAndGlyphs">Pan-cancer model</text>
<circle cx="146.1" cy="660.4" r="4.1" fill="#EEC900"/>
<circle cx="146.1" cy="672.8" r="4.1" fill="#FF4500"/>
<circle cx="146.1" cy="685.0" r="4.1" fill="#FFA500"/>
<circle cx="324.6" cy="660.4" r="4.1" fill="#9B30FF"/>
<circle cx="324.6" cy="672.8" r="4.1" fill="#9ACD32"/>
<circle cx="324.6" cy="685.0" r="4.1" fill="#008B00"/>
<circle cx="462.6" cy="660.4" r="4.1" fill="#76EEC6"/>
<circle cx="462.6" cy="672.8" r="4.1" fill="#00B2BF"/>
<circle cx="462.6" cy="685.0" r="4.1" fill="#4F94CD"/>
<text x="158.3" y="663.5" font-size="10.8" font-weight="normal" fill="#000" text-anchor="start" textLength="85.0" lengthAdjust="spacingAndGlyphs">logistic regression f</text>
<text x="244.4" y="664.7" font-size="7.0" font-weight="normal" fill="#000" text-anchor="start" textLength="18" lengthAdjust="spacingAndGlyphs">deam</text>
<text x="158.3" y="676.2" font-size="10.8" font-weight="normal" fill="#000" text-anchor="start" textLength="122.0" lengthAdjust="spacingAndGlyphs">logistic regression HRDsum</text>
<text x="158.3" y="688.2" font-size="10.8" font-weight="normal" fill="#000" text-anchor="start" textLength="85.0" lengthAdjust="spacingAndGlyphs">logistic regression f</text>
<text x="244.4" y="689.4" font-size="7.0" font-weight="normal" fill="#000" text-anchor="start" textLength="18" lengthAdjust="spacingAndGlyphs">deam</text>
<text x="265.4" y="688.2" font-size="10.8" font-weight="normal" fill="#000" text-anchor="start" textLength="47.0" lengthAdjust="spacingAndGlyphs">+ HRDsum</text>
<text x="336.9" y="663.5" font-size="10.8" font-weight="normal" fill="#000" text-anchor="start" textLength="27.0" lengthAdjust="spacingAndGlyphs">SVM f</text>
<text x="363.8" y="664.7" font-size="7.0" font-weight="normal" fill="#000" text-anchor="start" textLength="18.3" lengthAdjust="spacingAndGlyphs">deam</text>
<text x="384.8" y="663.5" font-size="10.8" font-weight="normal" fill="#000" text-anchor="start" textLength="47.6" lengthAdjust="spacingAndGlyphs">+ HRDsum</text>
<text x="336.9" y="676.2" font-size="10.8" font-weight="normal" fill="#000" text-anchor="start" textLength="113.3" lengthAdjust="spacingAndGlyphs">logistic regression 96 mts</text>
<text x="336.9" y="688.2" font-size="10.8" font-weight="normal" fill="#000" text-anchor="start" textLength="78.2" lengthAdjust="spacingAndGlyphs">elastic net 96 mts</text>
<text x="474.8" y="663.5" font-size="10.8" font-weight="normal" fill="#000" text-anchor="start" textLength="77.6" lengthAdjust="spacingAndGlyphs">neural net 96 mts</text>
<text x="474.8" y="676.2" font-size="10.8" font-weight="normal" fill="#000" text-anchor="start" textLength="54.0" lengthAdjust="spacingAndGlyphs">SVM 96 mts</text>
<text x="474.8" y="688.2" font-size="10.8" font-weight="normal" fill="#000" text-anchor="start" textLength="103.5" lengthAdjust="spacingAndGlyphs">SVM 96 mts + HRDsum</text>
<line x1="32.2" y1="704.0" x2="32.2" y2="894.5" stroke="#4d4d4d" stroke-width="1.2"/>
<line x1="31.6" y1="893.9000000000001" x2="680.9" y2="893.9000000000001" stroke="#4d4d4d" stroke-width="1.2"/>
<line x1="29.200000000000003" y1="712.4" x2="32.2" y2="712.4" stroke="#4d4d4d" stroke-width="1.1"/>
<text x="28.2" y="715.9" font-size="8.2" font-weight="normal" fill="#2a2a2a" text-anchor="end" textLength="12.4" lengthAdjust="spacingAndGlyphs">1.0</text>
<line x1="29.200000000000003" y1="770.2" x2="32.2" y2="770.2" stroke="#4d4d4d" stroke-width="1.1"/>
<text x="28.2" y="773.7" font-size="8.2" font-weight="normal" fill="#2a2a2a" text-anchor="end" textLength="12.4" lengthAdjust="spacingAndGlyphs">0.8</text>
<line x1="29.200000000000003" y1="827.4000000000001" x2="32.2" y2="827.4000000000001" stroke="#4d4d4d" stroke-width="1.1"/>
<text x="28.2" y="830.9000000000001" font-size="8.2" font-weight="normal" fill="#2a2a2a" text-anchor="end" textLength="12.4" lengthAdjust="spacingAndGlyphs">0.6</text>
<line x1="29.200000000000003" y1="885.5" x2="32.2" y2="885.5" stroke="#4d4d4d" stroke-width="1.1"/>
<text x="28.2" y="889.0" font-size="8.2" font-weight="normal" fill="#2a2a2a" text-anchor="end" textLength="12.4" lengthAdjust="spacingAndGlyphs">0.4</text>
<text x="11.4" y="798.5" font-size="9.8" font-weight="bold" fill="#000" text-anchor="middle" textLength="80.5" lengthAdjust="spacingAndGlyphs" transform="rotate(-90 11.4 798.5)">Balanced Accuracy</text>
<line x1="107.0" y1="893.9000000000001" x2="107.0" y2="896.2" stroke="#4d4d4d" stroke-width="1.1"/>
<text x="107.0" y="906.0" font-size="10.4" font-weight="normal" fill="#2a2a2a" text-anchor="middle" textLength="93.0" lengthAdjust="spacingAndGlyphs">train - TCGA-PANCAN</text>
<line x1="231.75" y1="893.9000000000001" x2="231.75" y2="896.2" stroke="#4d4d4d" stroke-width="1.1"/>
<text x="231.75" y="906.0" font-size="10.4" font-weight="normal" fill="#2a2a2a" text-anchor="middle" textLength="64.9" lengthAdjust="spacingAndGlyphs">test - TCGA-OV</text>
<line x1="356.5" y1="893.9000000000001" x2="356.5" y2="896.2" stroke="#4d4d4d" stroke-width="1.1"/>
<text x="356.5" y="906.0" font-size="10.4" font-weight="normal" fill="#2a2a2a" text-anchor="middle" textLength="53.9" lengthAdjust="spacingAndGlyphs">test - HD-OV</text>
<line x1="481.25" y1="893.9000000000001" x2="481.25" y2="896.2" stroke="#4d4d4d" stroke-width="1.1"/>
<text x="481.25" y="906.0" font-size="10.4" font-weight="normal" fill="#2a2a2a" text-anchor="middle" textLength="75.9" lengthAdjust="spacingAndGlyphs">test - TCGA-BRCA</text>
<line x1="606.0" y1="893.9000000000001" x2="606.0" y2="896.2" stroke="#4d4d4d" stroke-width="1.1"/>
<text x="606.0" y="906.0" font-size="10.4" font-weight="normal" fill="#2a2a2a" text-anchor="middle" textLength="96.0" lengthAdjust="spacingAndGlyphs">test - TCGA-PANCAN*</text>
<line x1="32.2" y1="856.7" x2="680.9" y2="856.7" stroke="#FF0000" stroke-width="2" stroke-dasharray="7.4 6.5"/>
<text x="611.0" y="851.4000000000001" font-size="9.3" font-weight="normal" fill="#FF0000" text-anchor="start" textLength="65" lengthAdjust="spacingAndGlyphs">baseline model</text>
<g stroke="#EEC900" stroke-width="1.8" fill="none"><line x1="57.1" y1="780.2" x2="57.1" y2="815.9"/><line x1="54.35" y1="780.2" x2="59.85" y2="780.2"/><line x1="54.35" y1="815.9" x2="59.85" y2="815.9"/></g><circle cx="57.1" cy="797.1" r="2.45" fill="#EEC900"/>
<g stroke="#FF4500" stroke-width="1.8" fill="none"><line x1="69.575" y1="764.7" x2="69.575" y2="798.4"/><line x1="66.825" y1="764.7" x2="72.325" y2="764.7"/><line x1="66.825" y1="798.4" x2="72.325" y2="798.4"/></g><circle cx="69.575" cy="780.6" r="2.45" fill="#FF4500"/>
<g stroke="#FFA500" stroke-width="1.8" fill="none"><line x1="82.05" y1="764.7" x2="82.05" y2="798.4"/><line x1="79.3" y1="764.7" x2="84.8" y2="764.7"/><line x1="79.3" y1="798.4" x2="84.8" y2="798.4"/></g><circle cx="82.05" cy="780.6" r="2.45" fill="#FFA500"/>
<g stroke="#9B30FF" stroke-width="1.8" fill="none"><line x1="94.525" y1="759.7" x2="94.525" y2="777.6"/><line x1="91.775" y1="759.7" x2="97.275" y2="759.7"/><line x1="91.775" y1="777.6" x2="97.275" y2="777.6"/></g><circle cx="94.525" cy="768.0" r="2.45" fill="#9B30FF"/>
<g stroke="#9ACD32" stroke-width="1.8" fill="none"><line x1="107.0" y1="798.6" x2="107.0" y2="835.8"/><line x1="104.25" y1="798.6" x2="109.75" y2="798.6"/><line x1="104.25" y1="835.8" x2="109.75" y2="835.8"/></g><circle cx="107.0" cy="816.7" r="2.45" fill="#9ACD32"/>
<g stroke="#008B00" stroke-width="1.8" fill="none"><line x1="119.475" y1="759.7" x2="119.475" y2="791.7"/><line x1="116.725" y1="759.7" x2="122.225" y2="759.7"/><line x1="116.725" y1="791.7" x2="122.225" y2="791.7"/></g><circle cx="119.475" cy="774.2" r="2.45" fill="#008B00"/>
<g stroke="#76EEC6" stroke-width="1.8" fill="none"><line x1="131.95" y1="805.8" x2="131.95" y2="817.7"/><line x1="129.2" y1="805.8" x2="134.7" y2="805.8"/><line x1="129.2" y1="817.7" x2="134.7" y2="817.7"/></g><circle cx="131.95" cy="811.8" r="2.45" fill="#76EEC6"/>
<g stroke="#00B2BF" stroke-width="1.8" fill="none"><line x1="144.425" y1="771.6" x2="144.425" y2="790.5"/><line x1="141.675" y1="771.6" x2="147.175" y2="771.6"/><line x1="141.675" y1="790.5" x2="147.175" y2="790.5"/></g><circle cx="144.425" cy="781.0" r="2.45" fill="#00B2BF"/>
<g stroke="#4F94CD" stroke-width="1.8" fill="none"><line x1="156.9" y1="763.7" x2="156.9" y2="782.2"/><line x1="154.15" y1="763.7" x2="159.65" y2="763.7"/><line x1="154.15" y1="782.2" x2="159.65" y2="782.2"/></g><circle cx="156.9" cy="772.4" r="2.45" fill="#4F94CD"/>
<g stroke="#EEC900" stroke-width="1.8" fill="none"><line x1="181.85" y1="758.7" x2="181.85" y2="838.6"/><line x1="179.1" y1="758.7" x2="184.6" y2="758.7"/><line x1="179.1" y1="838.6" x2="184.6" y2="838.6"/></g><circle cx="181.85" cy="792.9" r="2.45" fill="#EEC900"/>
<g stroke="#FF4500" stroke-width="1.8" fill="none"><line x1="194.325" y1="749.2" x2="194.325" y2="819.3"/><line x1="191.575" y1="749.2" x2="197.075" y2="749.2"/><line x1="191.575" y1="819.3" x2="197.075" y2="819.3"/></g><circle cx="194.325" cy="776.6" r="2.45" fill="#FF4500"/>
<g stroke="#FFA500" stroke-width="1.8" fill="none"><line x1="206.8" y1="756.1" x2="206.8" y2="819.9"/><line x1="204.05" y1="756.1" x2="209.55" y2="756.1"/><line x1="204.05" y1="819.9" x2="209.55" y2="819.9"/></g><circle cx="206.8" cy="780.6" r="2.45" fill="#FFA500"/>
<g stroke="#9B30FF" stroke-width="1.8" fill="none"><line x1="219.275" y1="732.9" x2="219.275" y2="798.8"/><line x1="216.525" y1="732.9" x2="222.025" y2="732.9"/><line x1="216.525" y1="798.8" x2="222.025" y2="798.8"/></g><circle cx="219.275" cy="756.7" r="2.45" fill="#9B30FF"/>
<g stroke="#9ACD32" stroke-width="1.8" fill="none"><line x1="231.75" y1="787.9" x2="231.75" y2="875.5"/><line x1="229.0" y1="787.9" x2="234.5" y2="787.9"/><line x1="229.0" y1="875.5" x2="234.5" y2="875.5"/></g><circle cx="231.75" cy="829.4" r="2.45" fill="#9ACD32"/>
<g stroke="#008B00" stroke-width="1.8" fill="none"><line x1="244.225" y1="744.8" x2="244.225" y2="817.7"/><line x1="241.475" y1="744.8" x2="246.975" y2="744.8"/><line x1="241.475" y1="817.7" x2="246.975" y2="817.7"/></g><circle cx="244.225" cy="774.2" r="2.45" fill="#008B00"/>
<g stroke="#76EEC6" stroke-width="1.8" fill="none"><line x1="256.7" y1="747.4" x2="256.7" y2="821.3"/><line x1="253.95" y1="747.4" x2="259.45" y2="747.4"/><line x1="253.95" y1="821.3" x2="259.45" y2="821.3"/></g><circle cx="256.7" cy="778.0" r="2.45" fill="#76EEC6"/>
<g stroke="#00B2BF" stroke-width="1.8" fill="none"><line x1="269.175" y1="762.1" x2="269.175" y2="840.2"/><line x1="266.425" y1="762.1" x2="271.925" y2="762.1"/><line x1="266.425" y1="840.2" x2="271.925" y2="840.2"/></g><circle cx="269.175" cy="796.1" r="2.45" fill="#00B2BF"/>
<g stroke="#4F94CD" stroke-width="1.8" fill="none"><line x1="281.65" y1="750.2" x2="281.65" y2="825.3"/><line x1="278.9" y1="750.2" x2="284.4" y2="750.2"/><line x1="278.9" y1="825.3" x2="284.4" y2="825.3"/></g><circle cx="281.65" cy="780.6" r="2.45" fill="#4F94CD"/>
<g stroke="#EEC900" stroke-width="1.8" fill="none"><line x1="306.6" y1="757.7" x2="306.6" y2="809.0"/><line x1="303.85" y1="757.7" x2="309.35" y2="757.7"/><line x1="303.85" y1="809.0" x2="309.35" y2="809.0"/></g><circle cx="306.6" cy="770.6" r="2.45" fill="#EEC900"/>
<g stroke="#FF4500" stroke-width="1.8" fill="none"><line x1="319.075" y1="774.6" x2="319.075" y2="838.6"/><line x1="316.325" y1="774.6" x2="321.825" y2="774.6"/><line x1="316.325" y1="838.6" x2="321.825" y2="838.6"/></g><circle cx="319.075" cy="795.5" r="2.45" fill="#FF4500"/>
<g stroke="#FFA500" stroke-width="1.8" fill="none"><line x1="331.55" y1="769.0" x2="331.55" y2="832.8"/><line x1="328.8" y1="769.0" x2="334.3" y2="769.0"/><line x1="328.8" y1="832.8" x2="334.3" y2="832.8"/></g><circle cx="331.55" cy="789.9" r="2.45" fill="#FFA500"/>
<g stroke="#9B30FF" stroke-width="1.8" fill="none"><line x1="344.025" y1="753.7" x2="344.025" y2="816.7"/><line x1="341.275" y1="753.7" x2="346.775" y2="753.7"/><line x1="341.275" y1="816.7" x2="346.775" y2="816.7"/></g><circle cx="344.025" cy="773.4" r="2.45" fill="#9B30FF"/>
<g stroke="#9ACD32" stroke-width="1.8" fill="none"><line x1="356.5" y1="769.8" x2="356.5" y2="833.4"/><line x1="353.75" y1="769.8" x2="359.25" y2="769.8"/><line x1="353.75" y1="833.4" x2="359.25" y2="833.4"/></g><circle cx="356.5" cy="790.3" r="2.45" fill="#9ACD32"/>
<g stroke="#008B00" stroke-width="1.8" fill="none"><line x1="368.975" y1="762.9" x2="368.975" y2="814.3"/><line x1="366.225" y1="762.9" x2="371.725" y2="762.9"/><line x1="366.225" y1="814.3" x2="371.725" y2="814.3"/></g><circle cx="368.975" cy="775.8" r="2.45" fill="#008B00"/>
<g stroke="#76EEC6" stroke-width="1.8" fill="none"><line x1="381.45" y1="761.9" x2="381.45" y2="813.2"/><line x1="378.7" y1="761.9" x2="384.2" y2="761.9"/><line x1="378.7" y1="813.2" x2="384.2" y2="813.2"/></g><circle cx="381.45" cy="774.6" r="2.45" fill="#76EEC6"/>
<g stroke="#00B2BF" stroke-width="1.8" fill="none"><line x1="393.925" y1="791.5" x2="393.925" y2="842.2"/><line x1="391.175" y1="791.5" x2="396.675" y2="791.5"/><line x1="391.175" y1="842.2" x2="396.675" y2="842.2"/></g><circle cx="393.925" cy="804.6" r="2.45" fill="#00B2BF"/>
<g stroke="#4F94CD" stroke-width="1.8" fill="none"><line x1="406.4" y1="782.8" x2="406.4" y2="834.2"/><line x1="403.65" y1="782.8" x2="409.15" y2="782.8"/><line x1="403.65" y1="834.2" x2="409.15" y2="834.2"/></g><circle cx="406.4" cy="796.1" r="2.45" fill="#4F94CD"/>
<g stroke="#EEC900" stroke-width="1.8" fill="none"><line x1="431.35" y1="745.8" x2="431.35" y2="795.7"/><line x1="428.6" y1="745.8" x2="434.1" y2="745.8"/><line x1="428.6" y1="795.7" x2="434.1" y2="795.7"/></g><circle cx="431.35" cy="762.1" r="2.45" fill="#EEC900"/>
<g stroke="#FF4500" stroke-width="1.8" fill="none"><line x1="443.825" y1="729.5" x2="443.825" y2="770.0"/><line x1="441.075" y1="729.5" x2="446.575" y2="729.5"/><line x1="441.075" y1="770.0" x2="446.575" y2="770.0"/></g><circle cx="443.825" cy="740.0" r="2.45" fill="#FF4500"/>
<g stroke="#FFA500" stroke-width="1.8" fill="none"><line x1="456.3" y1="726.5" x2="456.3" y2="756.7"/><line x1="453.55" y1="726.5" x2="459.05" y2="726.5"/><line x1="453.55" y1="756.7" x2="459.05" y2="756.7"/></g><circle cx="456.3" cy="730.9" r="2.45" fill="#FFA500"/>
<g stroke="#9B30FF" stroke-width="1.8" fill="none"><line x1="468.775" y1="720.6" x2="468.775" y2="759.1"/><line x1="466.025" y1="720.6" x2="471.525" y2="720.6"/><line x1="466.025" y1="759.1" x2="471.525" y2="759.1"/></g><circle cx="468.775" cy="729.9" r="2.45" fill="#9B30FF"/>
<g stroke="#9ACD32" stroke-width="1.8" fill="none"><line x1="481.25" y1="763.1" x2="481.25" y2="826.7"/><line x1="478.5" y1="763.1" x2="484.0" y2="763.1"/><line x1="478.5" y1="826.7" x2="484.0" y2="826.7"/></g><circle cx="481.25" cy="789.3" r="2.45" fill="#9ACD32"/>
<g stroke="#008B00" stroke-width="1.8" fill="none"><line x1="493.725" y1="751.2" x2="493.725" y2="813.2"/><line x1="490.975" y1="751.2" x2="496.475" y2="751.2"/><line x1="490.975" y1="813.2" x2="496.475" y2="813.2"/></g><circle cx="493.725" cy="776.4" r="2.45" fill="#008B00"/>
<g stroke="#76EEC6" stroke-width="1.8" fill="none"><line x1="506.2" y1="752.4" x2="506.2" y2="814.9"/><line x1="503.45" y1="752.4" x2="508.95" y2="752.4"/><line x1="503.45" y1="814.9" x2="508.95" y2="814.9"/></g><circle cx="506.2" cy="778.2" r="2.45" fill="#76EEC6"/>
<g stroke="#00B2BF" stroke-width="1.8" fill="none"><line x1="518.675" y1="733.3" x2="518.675" y2="789.9"/><line x1="515.925" y1="733.3" x2="521.425" y2="733.3"/><line x1="515.925" y1="789.9" x2="521.425" y2="789.9"/></g><circle cx="518.675" cy="754.9" r="2.45" fill="#00B2BF"/>
<g stroke="#4F94CD" stroke-width="1.8" fill="none"><line x1="531.15" y1="729.5" x2="531.15" y2="782.2"/><line x1="528.4" y1="729.5" x2="533.9" y2="729.5"/><line x1="528.4" y1="782.2" x2="533.9" y2="782.2"/></g><circle cx="531.15" cy="748.2" r="2.45" fill="#4F94CD"/>
<g stroke="#EEC900" stroke-width="1.8" fill="none"><line x1="556.1" y1="789.5" x2="556.1" y2="843.2"/><line x1="553.35" y1="789.5" x2="558.85" y2="789.5"/><line x1="553.35" y1="843.2" x2="558.85" y2="843.2"/></g><circle cx="556.1" cy="813.5" r="2.45" fill="#EEC900"/>
<g stroke="#FF4500" stroke-width="1.8" fill="none"><line x1="568.575" y1="783.1" x2="568.575" y2="836.2"/><line x1="565.825" y1="783.1" x2="571.325" y2="783.1"/><line x1="565.825" y1="836.2" x2="571.325" y2="836.2"/></g><circle cx="568.575" cy="811.4" r="2.45" fill="#FF4500"/>
<g stroke="#FFA500" stroke-width="1.8" fill="none"><line x1="581.05" y1="778.8" x2="581.05" y2="832.6"/><line x1="578.3" y1="778.8" x2="583.8" y2="778.8"/><line x1="578.3" y1="832.6" x2="583.8" y2="832.6"/></g><circle cx="581.05" cy="806.8" r="2.45" fill="#FFA500"/>
<g stroke="#9B30FF" stroke-width="1.8" fill="none"><line x1="593.525" y1="776.2" x2="593.525" y2="829.6"/><line x1="590.775" y1="776.2" x2="596.275" y2="776.2"/><line x1="590.775" y1="829.6" x2="596.275" y2="829.6"/></g><circle cx="593.525" cy="804.2" r="2.45" fill="#9B30FF"/>
<g stroke="#9ACD32" stroke-width="1.8" fill="none"><line x1="606.0" y1="804.8" x2="606.0" y2="860.0"/><line x1="603.25" y1="804.8" x2="608.75" y2="804.8"/><line x1="603.25" y1="860.0" x2="608.75" y2="860.0"/></g><circle cx="606.0" cy="831.6" r="2.45" fill="#9ACD32"/>
<g stroke="#008B00" stroke-width="1.8" fill="none"><line x1="618.475" y1="786.7" x2="618.475" y2="840.2"/><line x1="615.725" y1="786.7" x2="621.225" y2="786.7"/><line x1="615.725" y1="840.2" x2="621.225" y2="840.2"/></g><circle cx="618.475" cy="811.2" r="2.45" fill="#008B00"/>
<g stroke="#76EEC6" stroke-width="1.8" fill="none"><line x1="630.95" y1="786.1" x2="630.95" y2="839.8"/><line x1="628.2" y1="786.1" x2="633.7" y2="786.1"/><line x1="628.2" y1="839.8" x2="633.7" y2="839.8"/></g><circle cx="630.95" cy="810.8" r="2.45" fill="#76EEC6"/>
<g stroke="#00B2BF" stroke-width="1.8" fill="none"><line x1="643.425" y1="779.6" x2="643.425" y2="834.6"/><line x1="640.675" y1="779.6" x2="646.175" y2="779.6"/><line x1="640.675" y1="834.6" x2="646.175" y2="834.6"/></g><circle cx="643.425" cy="806.4" r="2.45" fill="#00B2BF"/>
<g stroke="#4F94CD" stroke-width="1.8" fill="none"><line x1="655.9" y1="773.2" x2="655.9" y2="828.8"/><line x1="653.15" y1="773.2" x2="658.65" y2="773.2"/><line x1="653.15" y1="828.8" x2="658.65" y2="828.8"/></g><circle cx="655.9" cy="800.6" r="2.45" fill="#4F94CD"/>
</svg>
</body></html>
